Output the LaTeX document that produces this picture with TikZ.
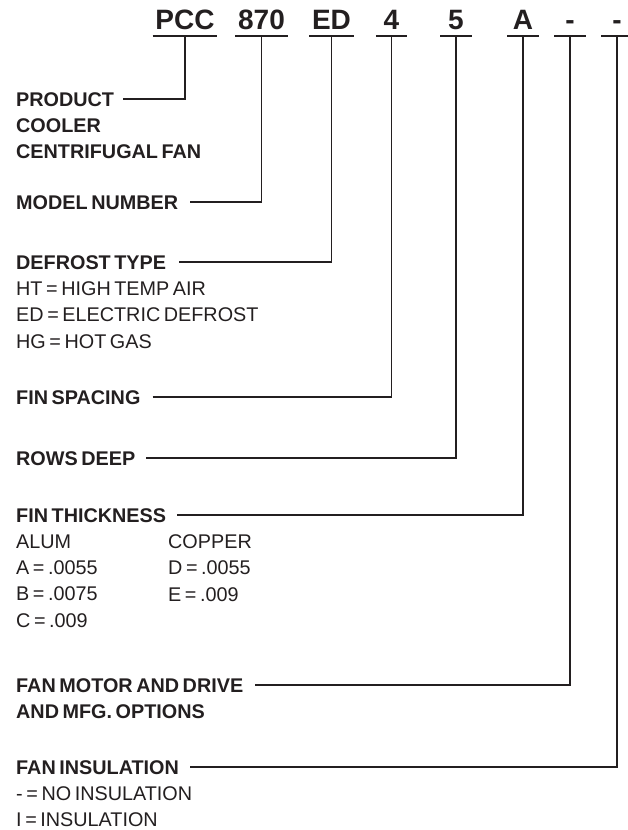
\documentclass[tikz,border=0pt]{standalone}
\usepackage{fontspec}
\setmainfont[WordSpace=0.65]{Liberation Sans}
\usepackage{xcolor}
\usepackage{tikz}
\usetikzlibrary{positioning}
\definecolor{ink}{HTML}{231F20}

\begin{document}
\begin{tikzpicture}[
  x=1pt, y=-1pt,
  code/.style={font=\fontsize{28}{30}\selectfont\bfseries, text=ink, anchor=base, text height=20pt, text depth=0pt, inner xsep=2.5pt, inner ysep=7pt, minimum width=31pt},
  title/.style={font=\fontsize{19.8}{26.3}\selectfont\bfseries, text=ink, anchor=base west, text height=14pt, text depth=0pt, inner sep=0pt},
  sub/.style={font=\fontsize{19.8}{26.3}\selectfont, text=ink, align=left, inner sep=0pt},
  subbold/.style={sub, font=\fontsize{19.8}{26.3}\selectfont\bfseries},
  uline/.style={draw=ink, line width=1.8pt},
  conn/.style={draw=ink, line width=1.6pt}
]
\useasboundingbox (0,0) rectangle (627,830);

\node[code] (pcc) at (185,29) {PCC};
\node[code] (num) at (261.5,29) {870};
\node[code] (dft) at (331.5,29) {ED};
\node[code] (fsp) at (391.5,29) {4};
\node[code] (rws) at (456,29) {5};
\node[code] (fth) at (523,29) {A};
\node[code] (fmd) at (570,29) {-};
\node[code] (fin) at (617,29) {-};

\draw[uline] (pcc.south west) -- (pcc.south east);
\draw[uline] (num.south west) -- (num.south east);
\draw[uline] (dft.south west) -- (dft.south east);
\draw[uline] (fsp.south west) -- (fsp.south east);
\draw[uline] (rws.south west) -- (rws.south east);
\draw[uline] (fth.south west) -- (fth.south east);
\draw[uline] (fmd.south west) -- (fmd.south east);
\draw[uline] (fin.south west) -- (fin.south east);

\node[title] (prod) at (16,106) {PRODUCT};
\node[subbold, below right=12.3pt and 0pt of prod.south west] (prod2) {COOLER\\CENTRIFUGAL FAN};
\node[title] (model) at (16,209) {MODEL NUMBER};
\node[title] (defr) at (16,269) {DEFROST TYPE};
\node[sub, below right=12.3pt and 0pt of defr.south west] (defr2) {HT = HIGH TEMP AIR\\ED = ELECTRIC DEFROST\\HG = HOT GAS};
\node[title] (spac) at (16,404) {FIN SPACING};
\node[title] (rows) at (16,465) {ROWS DEEP};
\node[title] (thick) at (16,522) {FIN THICKNESS};
\node[sub, below right=12.3pt and 0pt of thick.south west] (alum) {ALUM\\A = .0055\\B = .0075\\C = .009};
\node[sub, anchor=north west] (copper) at ([xshift=152pt]alum.north west) {COPPER\\D = .0055\\E = .009};
\node[title] (motor) at (16,692) {FAN MOTOR AND DRIVE};
\node[subbold, below right=12.3pt and 0pt of motor.south west] (motor2) {AND MFG. OPTIONS};
\node[title] (insul) at (16,774) {FAN INSULATION};
\node[sub, below right=12.3pt and 0pt of insul.south west] (insul2) {- = NO INSULATION\\I = INSULATION};

\draw[conn] ([xshift=9pt]prod.east) -| (pcc.south);
\draw[conn] ([xshift=12pt]model.east) -| (num.south);
\draw[conn] ([xshift=13pt]defr.east) -| (dft.south);
\draw[conn] ([xshift=12pt]spac.east) -| (fsp.south);
\draw[conn] ([xshift=11pt]rows.east) -| (rws.south);
\draw[conn] ([xshift=11pt]thick.east) -| (fth.south);
\draw[conn] ([xshift=12pt]motor.east) -| (fmd.south);
\draw[conn] ([xshift=11pt]insul.east) -| (fin.south);

\end{tikzpicture}
\end{document}
